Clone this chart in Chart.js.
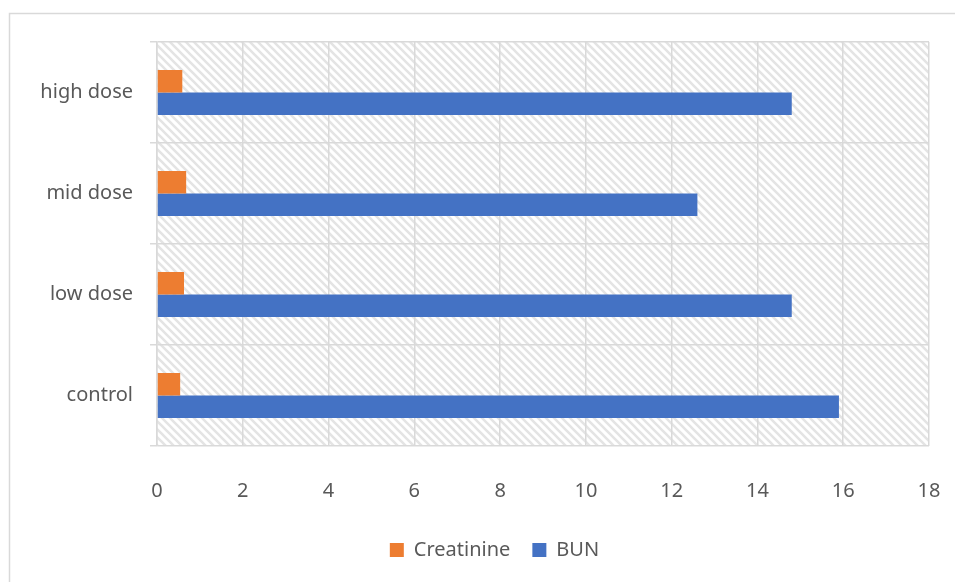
<!DOCTYPE html>
<html>
<head>
<meta charset="utf-8">
<script src="https://cdn.jsdelivr.net/npm/chart.js@4.4.0/dist/chart.umd.min.js"></script>
<style>
  html, body { margin: 0; padding: 0; background: #fff; }
  #contenedor { width: 955px; height: 582px; }
</style>
</head>
<body>
<div id="contenedor"><canvas id="grafico"></canvas></div>
<script>
    // datos (de arriba hacia abajo)
    const categorias = ['high dose', 'mid dose', 'low dose', 'control'];
    const creatinina = [0.59, 0.68, 0.63, 0.54];
    const bun = [14.8, 12.6, 14.8, 15.9];
    const ejeX = { min: 0, max: 18, paso: 2 };

    const gris = '#d9d9d9';
    const texto = '#595959';

    // fondo rayado del area de trazado + marco
    const fondoRayado = {
        id: 'fondoRayado',
        afterLayout(chart) {
            // la leyenda de Excel queda un poco mas a la derecha
            chart.legend.left += 18;
            chart.legend.right += 18;
        },
        beforeDraw(chart) {
            const { ctx, chartArea } = chart;
            const tile = document.createElement('canvas');
            tile.width = 8;
            tile.height = 8;
            const g = tile.getContext('2d');
            g.strokeStyle = '#e4e4e4';
            g.lineWidth = 2.6;
            g.beginPath();
            g.moveTo(-2, -2); g.lineTo(10, 10);
            g.moveTo(6, -2); g.lineTo(10, 2);
            g.moveTo(-2, 6); g.lineTo(2, 10);
            g.stroke();
            ctx.save();
            ctx.fillStyle = ctx.createPattern(tile, 'repeat');
            ctx.fillRect(chartArea.left, chartArea.top, chartArea.right - chartArea.left, chartArea.bottom - chartArea.top);
            ctx.strokeStyle = gris;
            ctx.lineWidth = 1.5;
            ctx.beginPath();
            ctx.moveTo(9.5, 600);
            ctx.lineTo(9.5, 13.5);
            ctx.lineTo(960, 13.5);
            ctx.stroke();
            ctx.restore();
        }
    };

    const data = {
        labels: categorias,
        datasets: [{
                label: 'Creatinine',
                backgroundColor: '#ED7D31',
                data: creatinina
            },
            {
                label: 'BUN',
                backgroundColor: '#4472C4',
                data: bun
            }
        ]
    };

    const config = {
        type: 'bar',
        data: data,
        options: {
            indexAxis: 'y',
            responsive: true,
            maintainAspectRatio: false,
            animation: false,
            categoryPercentage: 0.446,
            barPercentage: 1,
            layout: {
                padding: { top: 42, right: 26, bottom: 12, left: 24 }
            },
            scales: {
                x: {
                    min: ejeX.min,
                    max: ejeX.max,
                    ticks: {
                        stepSize: ejeX.paso,
                        color: texto,
                        padding: 10,
                        font: { family: 'Noto Sans', size: 20, lineHeight: 3.5 }
                    },
                    grid: { color: gris, lineWidth: 1.5, drawTicks: false },
                    border: { display: false },
                    afterFit: function(scale) { scale.height = 72; }
                },
                y: {
                    ticks: {
                        color: texto,
                        padding: 17,
                        font: { family: 'Noto Sans', size: 20 }
                    },
                    grid: { color: gris, lineWidth: 1.5, tickLength: 7, offset: true },
                    border: { color: gris, width: 1.5 },
                    afterFit: function(scale) { scale.width = 133; }
                }
            },
            plugins: {
                legend: {
                    position: 'bottom',
                    labels: {
                        boxWidth: 14,
                        boxHeight: 14,
                        padding: 22,
                        color: texto,
                        font: { family: 'Noto Sans', size: 20 }
                    }
                },
                tooltip: { enabled: false }
            }
        },
        plugins: [fondoRayado]
    };

    const ctx = document.getElementById('grafico').getContext('2d');
    const chart = new Chart(ctx, config);
</script>
</body>
</html>
